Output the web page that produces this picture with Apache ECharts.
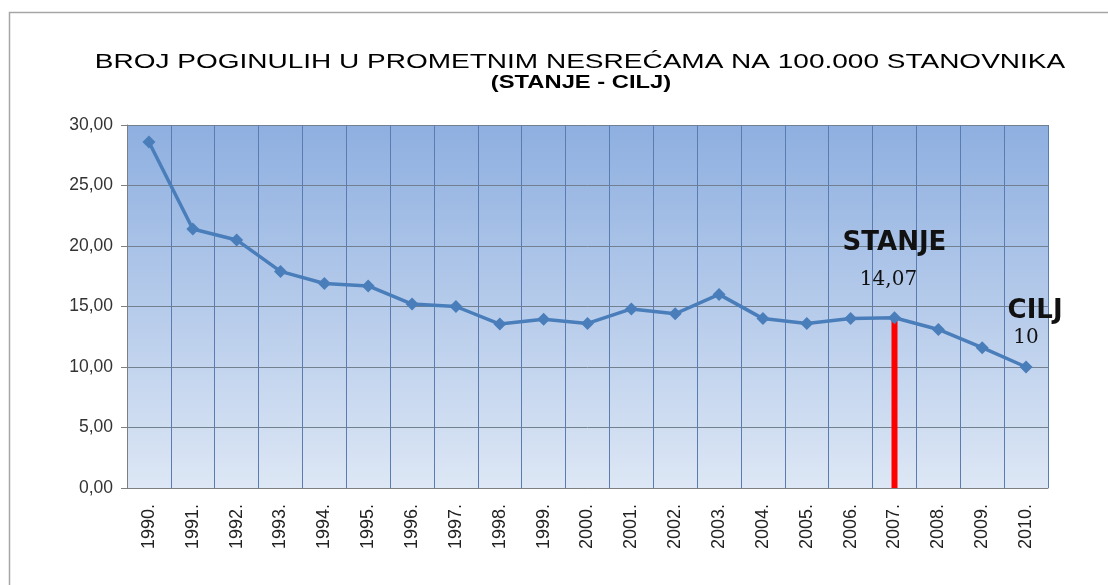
<!DOCTYPE html>
<html>
<head>
<meta charset="utf-8">
<script src="https://cdn.jsdelivr.net/npm/echarts@6/dist/echarts.min.js"></script>
<style>
  html, body { margin: 0; padding: 0; background: #fff; }
  #chart { width: 1108px; height: 585px; }
</style>
</head>
<body>
<div id="chart"></div>
<script>
// godine
var years = ['1990.', '1991.', '1992.', '1993.', '1994.', '1995.', '1996.', '1997.', '1998.', '1999.', '2000.',
  '2001.', '2002.', '2003.', '2004.', '2005.', '2006.', '2007.', '2008.', '2009.', '2010.'];
// broj poginulih na 100.000 stanovnika
var deaths = [28.6, 21.4, 20.5, 17.9, 16.9, 16.7, 15.2, 15.0, 13.55, 13.95, 13.6,
  14.8, 14.4, 16.0, 14.0, 13.6, 14.0, 14.07, 13.1, 11.6, 10];
// crveni stupac za stanje (2007.)
var stanjeBar = ['-', '-', '-', '-', '-', '-', '-', '-', '-', '-', '-',
  '-', '-', '-', '-', '-', '-', 14.07, '-', '-', '-'];
var yTicks = [0, 5, 10, 15, 20, 25, 30];
var stanjeIdx = 17;
var ciljIdx = 20;

var chart = echarts.init(document.getElementById('chart'));

var lineData = deaths.map(function (v, i) {
  if (i === stanjeIdx) {
    return {
      value: v,
      label: {
        show: true, position: 'top', distance: 21,
        formatter: '{a|STANJE}\n{b|14,07}',
        rich: {
          a: { fontFamily: 'DejaVu Sans', fontWeight: 'bold', fontSize: 26, color: '#111', lineHeight: 54 },
          b: { fontFamily: 'DejaVu Serif', fontSize: 20, color: '#111', lineHeight: 20, padding: [0, 12, 0, 0] }
        }
      }
    };
  }
  if (i === ciljIdx) {
    return {
      value: v,
      label: {
        show: true, position: 'top', distance: 13,
        formatter: '{a|CILJ}\n{b|10}',
        rich: {
          a: { fontFamily: 'DejaVu Sans', fontWeight: 'bold', fontSize: 26, color: '#111', lineHeight: 32, padding: [0, 0, 0, 18] },
          b: { fontFamily: 'DejaVu Serif', fontSize: 20, color: '#111', lineHeight: 20 }
        }
      }
    };
  }
  return v;
});

chart.setOption({
  animation: false,
  graphic: [
    {
      type: 'rect', silent: true,
      shape: { x: 9.5, y: 12.5, width: 1200, height: 700 },
      style: { fill: null, stroke: '#a6a6a6', lineWidth: 1.5 }
    },
    {
      type: 'text', x: 580, y: 62, scaleX: 1.4,
      style: {
        text: 'BROJ POGINULIH U PROMETNIM NESREĆAMA NA 100.000 STANOVNIKA',
        font: '20px "Liberation Sans"', fill: '#000', align: 'center', verticalAlign: 'middle'
      }
    },
    {
      type: 'text', x: 581, y: 83, scaleX: 1.25,
      style: {
        text: '(STANJE - CILJ)',
        font: 'bold 19px "Liberation Sans"', fill: '#000', align: 'center', verticalAlign: 'middle'
      }
    }
  ],
  grid: {
    left: 127, right: 60, top: 125, bottom: 97,
    show: true, borderWidth: 0,
    backgroundColor: new echarts.graphic.LinearGradient(0, 0, 0, 1, [
      { offset: 0, color: '#8eafe0' },
      { offset: 1, color: '#dde7f5' }
    ])
  },
  xAxis: {
    type: 'category',
    data: years,
    boundaryGap: true,
    axisLine: { show: true, lineStyle: { color: '#7f7f7f' } },
    axisTick: { show: false },
    axisLabel: {
      rotate: 90, interval: 0, margin: 16,
      fontFamily: 'Liberation Sans', fontSize: 18, color: '#222'
    },
    splitLine: { show: true, interval: 0, lineStyle: { color: '#5a7cb0', width: 1 } }
  },
  yAxis: {
    type: 'value',
    min: 0, max: 30, interval: 5,
    axisLine: { show: true, lineStyle: { color: '#7f7f7f' } },
    axisTick: { show: true, length: 6, lineStyle: { color: '#7f7f7f' } },
    axisLabel: {
      margin: 14, fontFamily: 'Liberation Sans', fontSize: 17.5, color: '#333',
      formatter: function (v) { return yTicks.indexOf(v) >= 0 ? v.toFixed(2).replace('.', ',') : ''; }
    },
    splitLine: { lineStyle: { color: '#73808f', width: 1 } }
  },
  series: [
    {
      type: 'bar',
      data: stanjeBar,
      barWidth: 6,
      itemStyle: { color: '#ff0000' },
      z: 3
    },
    {
      type: 'line',
      data: lineData,
      symbol: 'diamond',
      symbolSize: 13,
      lineStyle: { color: '#4a7ebb', width: 3.5 },
      itemStyle: { color: '#4a7ebb' },
      z: 4
    }
  ]
});
</script>
</body>
</html>
